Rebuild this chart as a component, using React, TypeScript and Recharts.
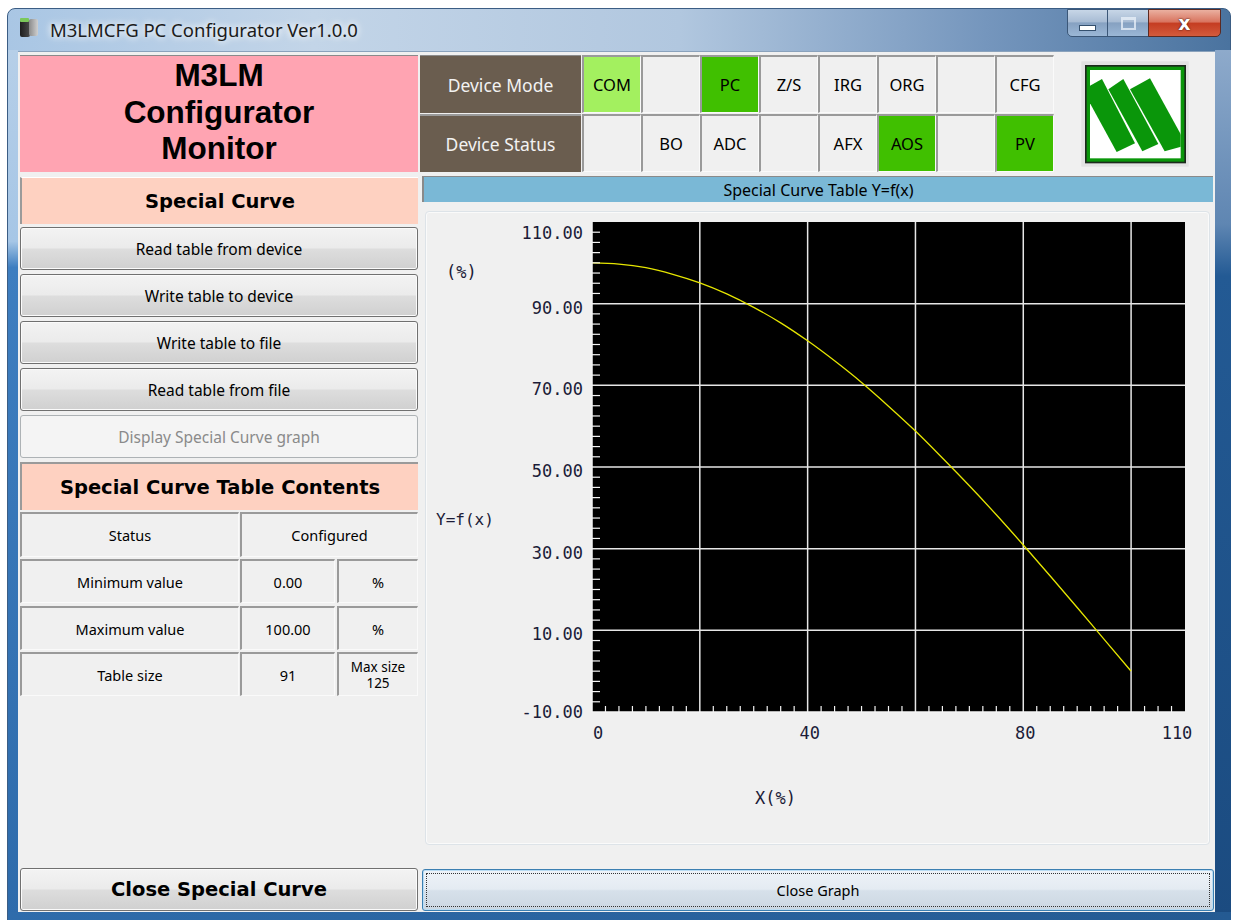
import React from "react";
import { LineChart, Line, XAxis, YAxis, ReferenceArea, ReferenceLine } from "recharts";

// --- Data ---

// special curve table (x %, y %)
const curveX = [0, 5, 10, 15, 20, 25, 30, 35, 40, 45, 50, 55, 60, 65, 70, 75, 80, 85, 90, 95, 100];
const curveY = [100.0, 99.7, 98.8, 97.2, 95.1, 92.4, 89.1, 85.3, 80.9, 76.0, 70.7, 64.9, 58.8, 52.2, 45.4, 38.3, 30.9, 23.3, 15.6, 7.8, 0.0];

const xDomain = [0, 110];
const yDomain = [-10, 110];
const gridX = [20, 40, 60, 80, 100];
const gridY = [90, 70, 50, 30, 10];
const xLabels = [0, 40, 80, 110];
const yLabels = [110, 90, 70, 50, 30, 10, -10];
const minorStep = 2.5;

const modeCells = ["COM", "", "PC", "Z/S", "IRG", "ORG", "", "CFG"];
const statusCells = ["", "BO", "ADC", "", "AFX", "AOS", "", "PV"];
const modeColors = ["#a3f05f", "", "#40c000", "", "", "", "", ""];
const statusColors = ["", "", "", "", "", "#40c000", "", "#40c000"];

const actionButtons = ["Read table from device", "Write table to device", "Write table to file", "Read table from file"];

const tableRows = [
  ["Minimum value", "0.00", "%"],
  ["Maximum value", "100.00", "%"],
];

const curveData = curveX.map((x, i) => ({ x, y: curveY[i] }));

const minorTicks = (lo: number, hi: number) => {
  const out: number[] = [];
  for (let v = lo; v <= hi + 0.001; v += minorStep) out.push(Math.round(v * 10) / 10);
  return out;
};
const xTicks = minorTicks(xDomain[0], xDomain[1]);
const yTicks = minorTicks(yDomain[0], yDomain[1]);

// --- Styles ---

const UI = "'Noto Sans', 'DejaVu Sans', sans-serif";
const MONO = "'DejaVu Sans Mono', 'Liberation Mono', monospace";
const LABEL_COLOR = "#1c1c38";

const abs = (left: number, top: number, width: number, height: number): React.CSSProperties => ({
  position: "absolute",
  left,
  top,
  width,
  height,
  boxSizing: "border-box",
});

const center: React.CSSProperties = {
  display: "flex",
  alignItems: "center",
  justifyContent: "center",
  textAlign: "center",
};

const sunken: React.CSSProperties = {
  borderTop: "2px solid #9a9a9a",
  borderLeft: "2px solid #9a9a9a",
  borderRight: "1px solid #fafafa",
  borderBottom: "1px solid #fafafa",
  background: "#f0f0f0",
};

const button: React.CSSProperties = {
  border: "1px solid #707070",
  borderRadius: 3,
  background: "linear-gradient(#f3f3f3 0%, #ebebeb 48%, #dddddd 52%, #d0d0d0 100%)",
  boxShadow: "inset 0 0 0 1px #fbfbfb",
  fontFamily: UI,
  fontSize: 15.5,
  color: "#000",
};

// --- Chart pieces ---

function YTick(props: any) {
  const { x, y, payload } = props;
  const v = payload.value;
  if (yLabels.includes(v)) {
    const dy = v === 110 ? 11 : v === -10 ? 0 : 4;
    return (
      <text x={x - 9} y={y + dy} dy="0.36em" textAnchor="end" fontFamily={MONO} fontSize={17} fill={LABEL_COLOR}>
        {v.toFixed(2)}
      </text>
    );
  }
  if (gridY.includes(v)) return <g />;
  return <line x1={x} x2={x + 8} y1={y} y2={y} stroke="#f4f4f4" strokeWidth={1.2} />;
}

function XTick(props: any) {
  const { x, y, payload } = props;
  const v = payload.value;
  if (xLabels.includes(v)) {
    const anchor = v === 0 ? "start" : "middle";
    const dx = v === 0 ? 1 : v === 110 ? -8 : 2;
    return (
      <text x={x + dx} y={y + 21} dy="0.36em" textAnchor={anchor} fontFamily={MONO} fontSize={17} fill={LABEL_COLOR}>
        {v}
      </text>
    );
  }
  if (gridX.includes(v)) return <g />;
  return <line x1={x} x2={x} y1={y} y2={y - 6} stroke="#f4f4f4" strokeWidth={1.2} />;
}

function CurveChart() {
  return (
    <LineChart width={785} height={634} data={curveData} margin={{ top: 11, right: 25, left: 0, bottom: 0 }}>
      <ReferenceArea x1={xDomain[0]} x2={xDomain[1]} y1={yDomain[0]} y2={yDomain[1]} fill="#000" fillOpacity={1} stroke="none" />
      {gridX.map((v) => (
        <ReferenceLine key={`gx-${v}`} x={v} stroke="#e6e6e6" strokeWidth={1.5} />
      ))}
      {gridY.map((v) => (
        <ReferenceLine key={`gy-${v}`} y={v} stroke="#e6e6e6" strokeWidth={1.5} />
      ))}
      <Line
        type="monotone"
        dataKey="y"
        stroke="#e6e600"
        strokeWidth={1.3}
        dot={false}
        activeDot={false}
        isAnimationActive={false}
      />
      <XAxis
        dataKey="x"
        type="number"
        domain={xDomain}
        ticks={xTicks}
        interval={0}
        height={133}
        tickSize={0}
        tickMargin={0}
        tickLine={false}
        axisLine={{ stroke: "#f4f4f4", strokeWidth: 1.5 }}
        tick={(p: any) => <XTick {...p} />}
        allowDataOverflow
      />
      <YAxis
        type="number"
        domain={yDomain}
        ticks={yTicks}
        interval={0}
        width={167}
        tickSize={0}
        tickMargin={0}
        tickLine={false}
        axisLine={{ stroke: "#f4f4f4", strokeWidth: 1.5 }}
        tick={(p: any) => <YTick {...p} />}
        allowDataOverflow
      />
    </LineChart>
  );
}

function Logo() {
  return (
    <svg width={110} height={110} viewBox="0 0 330 330" style={{ position: "absolute", left: 1080, top: 60 }}>
      <defs>
        <clipPath id="logoClip">
          <rect x={30} y={30} width={272} height={265} />
        </clipPath>
      </defs>
      <rect x={4} y={4} width={322} height={316} fill="#e2e2e2" />
      <rect x={15} y={15} width={303} height={295} fill="#1c2a1c" />
      <rect x={20} y={20} width={293} height={285} fill="#0a960a" />
      <rect x={30} y={30} width={272} height={265} fill="#fff" />
      <g clipPath="url(#logoClip)" fill="#0a960a">
        <polygon points="8,90 66,57 165,250 110,276" />
        <polygon points="85,88 130,57 235,252 187,274" />
        <polygon points="150,88 210,55 320,255 254,274" />
      </g>
    </svg>
  );
}

// --- App ---

export default function App() {
  return (
    <div style={{ position: "absolute", left: 0, top: 0, width: 1233, height: 920, overflow: "hidden", background: "#fff" }}>
      {/* window frame */}
      <div
        style={{
          ...abs(7, 8, 1224, 920),
          borderRadius: "8px 8px 0 0",
          border: "1px solid #3b5d84",
          background: "linear-gradient(90deg, #a9c6e4 0%, #c3d5e8 25%, #b1c7df 55%, #7596bd 80%, #4a739f 100%)",
        }}
      />
      <div style={{ ...abs(8, 50, 10, 870), background: "linear-gradient(180deg, #b6cfe8 0%, #a6c6e6 22%, #3e7ec0 25%, #2e6bab 100%)" }} />
      <div style={{ ...abs(1215, 50, 16, 870), background: "linear-gradient(180deg, #8eaacb 0%, #5f86b2 20%, #235a94 26%, #1b4b80 100%)" }} />
      <div style={{ ...abs(8, 912, 1223, 8), background: "linear-gradient(90deg, #2f6cab, #245a92)" }} />

      {/* title bar */}
      <div style={{ ...abs(20, 20, 10, 17), background: "linear-gradient(90deg, #1e1e1e, #4a4a4a)", borderRadius: 2 }} />
      <div style={{ ...abs(29, 19, 9, 17), background: "linear-gradient(90deg, #8a8a8a, #d0d0d0)", borderRadius: 2 }} />
      <div style={{ ...abs(20, 18, 9, 4), background: "#7bc85a", borderRadius: 1 }} />
      <div
        style={{
          ...abs(50, 18, 360, 24),
          fontFamily: UI,
          fontSize: 18.5,
          lineHeight: "24px",
          color: "#1b1b1b",
          textShadow: "0 0 6px #fff, 0 0 10px rgba(255,255,255,0.9)",
          whiteSpace: "nowrap",
        }}
      >
        M3LMCFG PC Configurator Ver1.0.0
      </div>
      <div
        style={{
          ...abs(1067, 9, 41, 28),
          ...center,
          border: "1px solid #3b5778",
          borderRadius: "0 0 0 5px",
          background: "linear-gradient(#c7d6e7 0%, #a8bcd4 45%, #86a1c1 50%, #9bb7d6 100%)",
        }}
      >
        <div style={{ width: 15, height: 4, marginTop: 9, background: "#fff", border: "1px solid #34506e" }} />
      </div>
      <div
        style={{
          ...abs(1107, 9, 42, 28),
          ...center,
          border: "1px solid #3b5778",
          background: "linear-gradient(#c7d6e7 0%, #a8bcd4 45%, #86a1c1 50%, #9bb7d6 100%)",
        }}
      >
        <div style={{ width: 11, height: 8, border: "2px solid rgba(235,242,250,0.75)", borderTopWidth: 3 }} />
      </div>
      <div
        style={{
          ...abs(1148, 9, 73, 28),
          ...center,
          border: "1px solid #5b2a22",
          borderRadius: "0 0 5px 0",
          background: "linear-gradient(#eab0a0 0%, #d97560 45%, #c53d22 52%, #d35b3c 100%)",
          fontFamily: "'DejaVu Sans', sans-serif",
          fontWeight: 700,
          fontSize: 19,
          color: "#fff",
          textShadow: "0 0 2px #4a1a12, 0 0 1px #4a1a12",
        }}
      >
        x
      </div>

      {/* client area */}
      <div style={{ ...abs(18, 51, 1197, 861), background: "#f0f0f0", borderTop: "1px solid #8aa2bc" }} />

      {/* left panel */}
      <div
        style={{
          ...abs(20, 55, 398, 117),
          ...center,
          flexDirection: "column",
          paddingBottom: 4,
          background: "#ffa4b2",
          borderTop: "1px solid #8a8a8a",
          fontFamily: "'Liberation Sans', Arial, sans-serif",
          fontWeight: 700,
          fontSize: 31.5,
          lineHeight: "36.5px",
          color: "#000",
        }}
      >
        <div>M3LM</div>
        <div>Configurator</div>
        <div>Monitor</div>
      </div>
      <div
        style={{
          ...abs(20, 177, 398, 47),
          ...center,
          background: "#fed1c1",
          borderLeft: "2px solid #9a9a9a",
          borderTop: "1px solid #fff",
          fontFamily: "'DejaVu Sans', sans-serif",
          fontWeight: 700,
          fontSize: 19.5,
        }}
      >
        Special Curve
      </div>
      {actionButtons.map((label, i) => (
        <div key={label} style={{ ...abs(20, 227 + i * 47, 398, 43), ...button, ...center }}>
          {label}
        </div>
      ))}
      <div
        style={{
          ...abs(20, 415, 398, 43),
          ...center,
          border: "1px solid #adb2b5",
          borderRadius: 3,
          background: "#f4f4f4",
          fontFamily: UI,
          fontSize: 15.5,
          color: "#8a8a8a",
        }}
      >
        Display Special Curve graph
      </div>
      <div
        style={{
          ...abs(20, 462, 398, 48),
          ...center,
          background: "#fed1c1",
          borderLeft: "2px solid #9a9a9a",
          borderTop: "2px solid #9a9a9a",
          fontFamily: "'DejaVu Sans', sans-serif",
          fontWeight: 700,
          fontSize: 19.5,
        }}
      >
        Special Curve Table Contents
      </div>

      {/* table */}
      <div style={{ ...abs(20, 512, 219, 45), ...sunken, ...center, fontFamily: UI, fontSize: 14.5 }}>Status</div>
      <div style={{ ...abs(240, 512, 178, 45), ...sunken, ...center, fontFamily: UI, fontSize: 14.5 }}>Configured</div>
      {tableRows.map((row, r) => (
        <React.Fragment key={row[0]}>
          <div style={{ ...abs(20, 559 + r * 47, 219, 44), ...sunken, ...center, fontFamily: UI, fontSize: 14.5 }}>{row[0]}</div>
          <div style={{ ...abs(240, 559 + r * 47, 95, 44), ...sunken, ...center, fontFamily: UI, fontSize: 14.5 }}>{row[1]}</div>
          <div style={{ ...abs(337, 559 + r * 47, 81, 44), ...sunken, ...center, fontFamily: UI, fontSize: 14.5 }}>{row[2]}</div>
        </React.Fragment>
      ))}
      <div style={{ ...abs(20, 652, 219, 44), ...sunken, ...center, fontFamily: UI, fontSize: 14.5 }}>Table size</div>
      <div style={{ ...abs(240, 652, 95, 44), ...sunken, ...center, fontFamily: UI, fontSize: 14.5 }}>91</div>
      <div
        style={{
          ...abs(337, 652, 81, 44),
          ...sunken,
          ...center,
          flexDirection: "column",
          fontFamily: UI,
          fontSize: 13.5,
          lineHeight: "16px",
        }}
      >
        <div>Max size</div>
        <div>125</div>
      </div>

      <div style={{ ...abs(20, 868, 398, 43), ...button, ...center, fontFamily: "'DejaVu Sans', sans-serif", fontWeight: 700, fontSize: 19.5 }}>
        Close Special Curve
      </div>

      {/* status grid */}
      <div
        style={{
          ...abs(420, 55, 161, 58),
          ...center,
          background: "#6a5d4f",
          borderTop: "1px solid #8a8a8a",
          fontFamily: UI,
          fontSize: 17.5,
          color: "#f2f2f2",
        }}
      >
        Device Mode
      </div>
      <div
        style={{
          ...abs(420, 114, 161, 58),
          ...center,
          background: "#6a5d4f",
          borderTop: "2px solid #9a9a9a",
          fontFamily: UI,
          fontSize: 17.5,
          color: "#f2f2f2",
        }}
      >
        Device Status
      </div>
      {modeCells.map((label, i) => (
        <div
          key={`m-${i}`}
          style={{
            ...abs(582 + i * 59, 55, 59, 58),
            ...center,
            ...sunken,
            background: modeColors[i] || "#f0f0f0",
            fontFamily: UI,
            fontSize: 16.5,
          }}
        >
          {label}
        </div>
      ))}
      {statusCells.map((label, i) => (
        <div
          key={`s-${i}`}
          style={{
            ...abs(582 + i * 59, 114, 59, 58),
            ...center,
            ...sunken,
            background: statusColors[i] || "#f0f0f0",
            fontFamily: UI,
            fontSize: 16.5,
          }}
        >
          {label}
        </div>
      ))}
      <Logo />

      {/* graph title */}
      <div
        style={{
          ...abs(422, 176, 791, 26),
          ...center,
          background: "#7ab8d6",
          borderLeft: "2px solid #8a8a8a",
          borderTop: "1px solid #8a8a8a",
          fontFamily: UI,
          fontSize: 16,
          color: "#000",
        }}
      >
        Special Curve Table Y=f(x)
      </div>

      {/* graph panel */}
      <div
        style={{
          ...abs(425, 211, 785, 634),
          border: "1px solid #dde3e8",
          borderRadius: 4,
          boxShadow: "inset 0 0 0 1px #fafafa",
          background: "#f0f0f0",
        }}
      />
      <div style={{ position: "absolute", left: 425, top: 211 }}>
        <CurveChart />
      </div>
      <div style={{ ...abs(446, 262, 60, 20), fontFamily: MONO, fontSize: 17, lineHeight: "20px", color: LABEL_COLOR }}>(%)</div>
      <div style={{ ...abs(436, 510, 80, 20), fontFamily: MONO, fontSize: 16, lineHeight: "20px", color: LABEL_COLOR }}>Y=f(x)</div>
      <div style={{ ...abs(755, 788, 80, 20), fontFamily: MONO, fontSize: 17, lineHeight: "20px", color: LABEL_COLOR }}>X(%)</div>

      {/* close graph */}
      <div
        style={{
          ...abs(422, 869, 792, 42),
          ...center,
          border: "1px solid #3c7fb1",
          borderRadius: 3,
          background: "linear-gradient(#eef3f8 0%, #e4ebf2 48%, #d6e0ea 52%, #ccd7e2 100%)",
          boxShadow: "inset 0 0 0 1px #b9dcf3",
          fontFamily: UI,
          fontSize: 14.5,
        }}
      >
        <div style={{ ...abs(3, 3, 784, 34), border: "1px dotted #333" }} />
        Close Graph
      </div>
    </div>
  );
}
